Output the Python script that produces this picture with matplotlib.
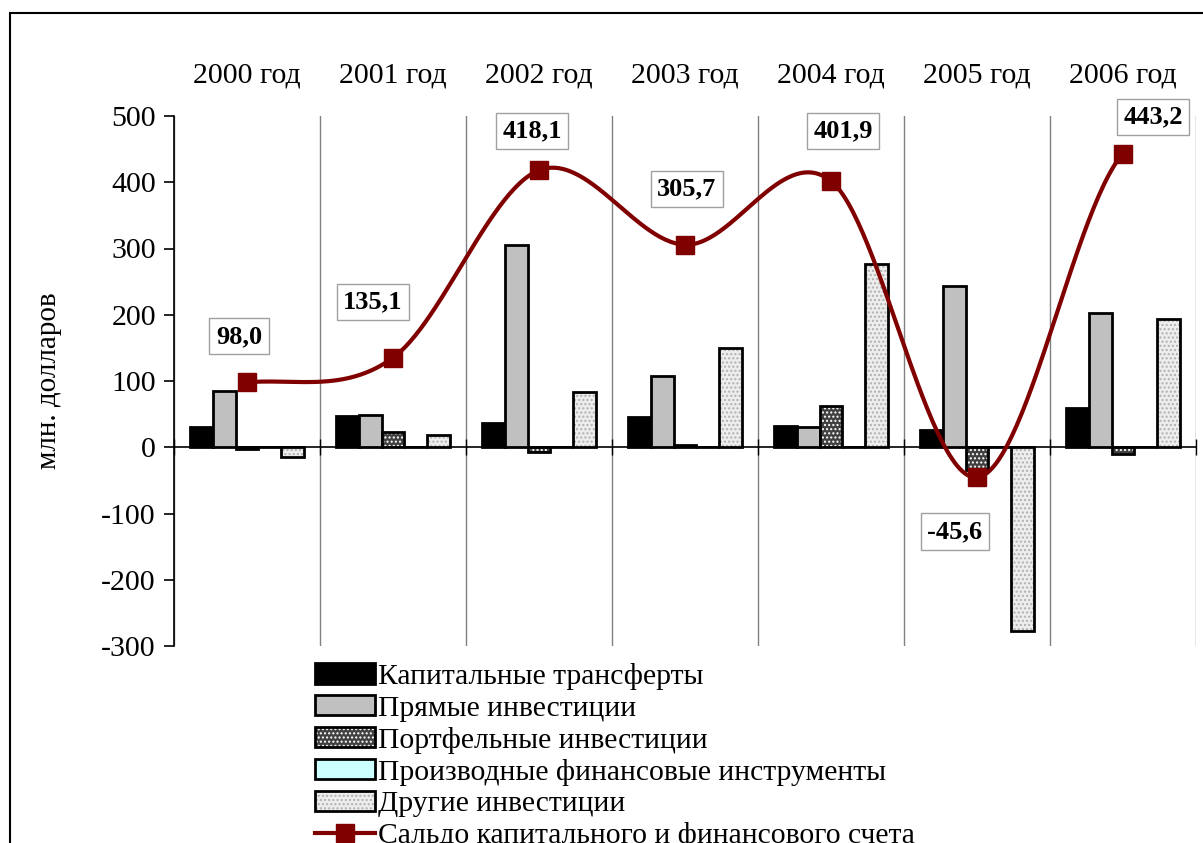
import numpy as np
import matplotlib
matplotlib.use("Agg")
import matplotlib.pyplot as plt
from matplotlib.patches import Patch, Rectangle
from matplotlib.lines import Line2D
from matplotlib.legend_handler import HandlerTuple

plt.rcParams['font.family'] = ['Liberation Serif', 'DejaVu Serif']
plt.rcParams['hatch.linewidth'] = 1.0
plt.rcParams['axes.unicode_minus'] = False

# Data (млн. долларов)
years = ['2000 год', '2001 год', '2002 год', '2003 год', '2004 год', '2005 год', '2006 год']
capital_transfers = [30, 47, 37, 46, 32, 26, 60]
direct_inv = [85, 49, 306, 108, 31, 243, 203]
portfolio_inv = [-2, 23, -7, 3, 63, -35, -10]
derivatives = [0, 0, 0, 0, 0, 1, 0]
other_inv = [-15, 18, 83, 150, 276, -277, 193]
balance = [98.0, 135.1, 418.1, 305.7, 401.9, -45.6, 443.2]
balance_labels = ['98,0', '135,1', '418,1', '305,7', '401,9', '-45,6', '443,2']
# label offsets in pixels (dx, dy)
label_off = [(-8, 46), (-20, 56), (-7, 39), (2, 56), (12, 50), (-22, -54), (30, 37)]

legend_names = ['Капитальные трансферты', 'Прямые инвестиции', 'Портфельные инвестиции',
                'Производные финансовые инструменты', 'Другие инвестиции',
                'Сальдо капитального и финансового счета']

fig = plt.figure(figsize=(12.03, 8.43), dpi=100)
ax = fig.add_axes([174/1203, 1-646/843, (1196-174)/1203, (646-116)/843])

# outer frame
fig.patches.append(Rectangle((10/1203, -0.1), 1.2, 1-13/843+0.1, transform=fig.transFigure,
                             fill=False, edgecolor='black', lw=1.5))

x = np.arange(len(years))
w = 0.155
offs = np.array([-2, -1, 0, 1, 2]) * w
lw = 2.0

ax.bar(x + offs[0], capital_transfers, w, color='black', edgecolor='black', lw=lw, zorder=3)
ax.bar(x + offs[1], direct_inv, w, color='#C0C0C0', edgecolor='black', lw=lw, zorder=3)
ax.bar(x + offs[2], portfolio_inv, w, color='#404040', edgecolor='white', hatch='....', lw=0, zorder=3)
ax.bar(x + offs[2], portfolio_inv, w, fill=False, edgecolor='black', lw=lw, zorder=3)
ax.bar(x + offs[3], derivatives, w, color='#CCFFFF', edgecolor='black', lw=lw, zorder=3)
ax.bar(x + offs[4], other_inv, w, color='#EDEDED', edgecolor='#B0B0B0', hatch='....', lw=0, zorder=3)
ax.bar(x + offs[4], other_inv, w, fill=False, edgecolor='black', lw=lw, zorder=3)

# smoothed line (Catmull-Rom as in spreadsheet smoothing)
yb = np.array(balance)
p = np.concatenate([[yb[0]], yb, [yb[-1]]])
xs, ys = [], []
for i in range(len(yb) - 1):
    t = np.linspace(0, 1, 60)
    m0 = (p[i + 2] - p[i]) / 2
    m1 = (p[i + 3] - p[i + 1]) / 2
    h00 = 2*t**3 - 3*t**2 + 1
    h10 = t**3 - 2*t**2 + t
    h01 = -2*t**3 + 3*t**2
    h11 = t**3 - t**2
    xs.append(i + t)
    ys.append(h00*yb[i] + h10*m0 + h01*yb[i+1] + h11*m1)
ax.plot(np.concatenate(xs), np.concatenate(ys), color='#800000', lw=3, zorder=4)
ax.plot(x, balance, ls='none', marker='s', ms=12.5, color='#800000', zorder=5)

for xi, yi, lab, (dx, dy) in zip(x, balance, balance_labels, label_off):
    ax.annotate(lab, (xi, yi), xytext=(dx*0.72, dy*0.72), textcoords='offset points',
                ha='center', va='center', fontsize=19, fontweight='bold', zorder=6,
                bbox=dict(boxstyle='square,pad=0.25', fc='white', ec='#A0A0A0', lw=1))

ax.set_xlim(-0.5, len(years) - 0.5)
ax.set_ylim(-300, 500)
ax.set_yticks(np.arange(-300, 501, 100))
ax.set_ylabel('млн. долларов', fontsize=21, labelpad=28)

ax.set_xticks(x)
ax.set_xticklabels(years)
ax.set_xticks(np.arange(-0.5, len(years)), minor=True)
ax.tick_params(axis='x', which='major', bottom=False, top=False, labelbottom=False,
               labeltop=True, labelsize=21.5, pad=16)
ax.tick_params(axis='x', which='minor', bottom=True, direction='inout', length=12, width=1)
ax.tick_params(axis='y', labelsize=21.5, direction='out', length=7, width=1.2, pad=6)
ax.grid(which='minor', axis='x', color='#808080', lw=1)

ax.spines['bottom'].set_position(('data', 0))
ax.spines['bottom'].set_linewidth(1.2)
ax.spines['left'].set_linewidth(1.2)
ax.spines['top'].set_visible(False)
ax.spines['right'].set_visible(False)

handles = [Patch(fc='black', ec='black', lw=lw),
           Patch(fc='#C0C0C0', ec='black', lw=lw),
           (Patch(fc='#404040', ec='white', hatch='....', lw=0), Patch(fill=False, ec='black', lw=lw)),
           Patch(fc='#CCFFFF', ec='black', lw=lw),
           (Patch(fc='#EDEDED', ec='#B0B0B0', hatch='....', lw=0), Patch(fill=False, ec='black', lw=lw)),
           Line2D([], [], color='#800000', lw=3, marker='s', ms=12.5)]
fig.legend(handles, legend_names, loc='upper left', bbox_to_anchor=(315/1203, 1-663/843),
           frameon=False, fontsize=21.3, handlelength=2.03, handleheight=0.68, handletextpad=0.1,
           labelspacing=0.17, borderaxespad=0, borderpad=0,
           handler_map={tuple: HandlerTuple(ndivide=1)})

fig.savefig('out.png', dpi=100)
